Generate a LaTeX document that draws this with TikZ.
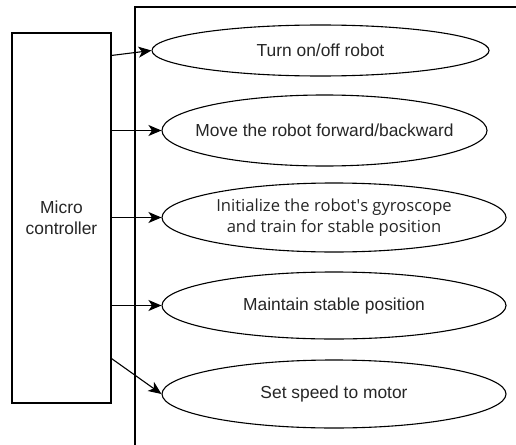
\documentclass[tikz,border=0pt]{standalone}
\usepackage{fontspec}
\setmainfont{Liberation Sans}
\newfontfamily\osfont{Open Sans}
\usetikzlibrary{shapes.geometric,arrows.meta,calc}
\definecolor{txt}{HTML}{262626}
\begin{document}
\begin{tikzpicture}[x=1pt,y=-1pt,
  uc/.style={draw=black, line width=1.1pt, ellipse, inner xsep=-80pt, inner ysep=0pt, text=txt,
    font=\fontsize{17.4}{21}\selectfont, align=center},
  mcbox/.style={draw=black, line width=1.1pt, rectangle, inner sep=0pt, text=txt,
    font=\fontsize{17.4}{21}\selectfont, align=center},
  boundary/.style={draw=black, line width=1.1pt},
  conn/.style={-{Stealth[length=13pt,width=11pt,inset=3.5pt]}, line width=1.1pt}]
\useasboundingbox (0,0) rectangle (516,444);
\fill[white] (0,0) rectangle (516,444);
% system boundary (cut off by the page)
\draw[boundary] (517,7) -- (135,7) -- (135,445);
% actor box
\node[mcbox, minimum width=99pt, minimum height=370pt] (mc) at (61.5,218) {Micro\\controller};
% use cases
\node[uc, minimum width=337pt, minimum height=51pt] (e1) at (320.5,50.5) {Turn on/off robot};
\node[uc, minimum width=325pt, minimum height=71pt] (e2) at (324.5,130.5) {Move the robot forward/backward};
\node[uc, minimum width=344pt, minimum height=69pt, font=\osfont\fontsize{16.6}{21}\selectfont] (e3) at (334,217.5) {Initialize the robot\textquotesingle s gyroscope\\and train for stable position};
\node[uc, minimum width=344pt, minimum height=67pt] (e4) at (334,305.5) {Maintain stable position};
\node[uc, minimum width=344pt, minimum height=68pt] (e5) at (334,394) {Set speed to motor};
% connectors
\draw[conn] ([yshift=-23pt]mc.north east) -- (e1.west);
\draw[conn] (mc.east |- e2.west) -- (e2.west);
\draw[conn] (mc.east |- e3.west) -- (e3.west);
\draw[conn] (mc.east |- e4.west) -- (e4.west);
\draw[conn] ([yshift=45pt]mc.south east) -- (e5.west);
\end{tikzpicture}
\end{document}
